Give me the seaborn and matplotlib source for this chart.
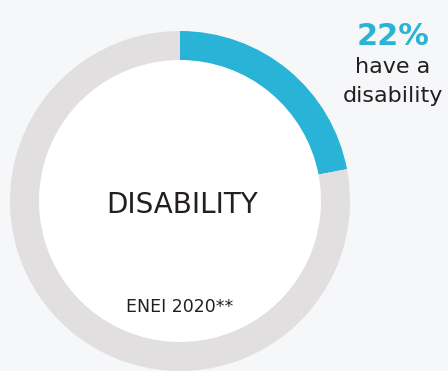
import matplotlib
matplotlib.use("Agg")
import matplotlib.pyplot as plt
import seaborn as sns

# Share of respondents reporting a disability
categories = ["Have a disability", "Other"]
values = [22, 78]
headline = "22%"
caption_lines = ["have a", "disability"]
center_label = "DISABILITY"
source_label = "ENEI 2020**"

sns.set_theme(style="white")
plt.rcParams["font.family"] = ["DejaVu Sans"]

ring_colors = ["#29b3d6", "#e1dfe0"]
bg = "#f6f7f9"
ink = "#231f20"

fig = plt.figure(figsize=(4.48, 3.71), dpi=100, facecolor=bg)
ax = fig.add_axes([0, 0, 1, 1])
ax.set_facecolor(bg)

H = 371
cx, cy, r, w = 180, H - 201, 170, 29
ax.add_patch(plt.Circle((cx, cy), r - w, color="white", zorder=0))
ax.pie(values, colors=ring_colors, startangle=90, counterclock=False,
       center=(cx, cy), radius=r, wedgeprops=dict(width=w, linewidth=0))
ax.set_xlim(0, 448)
ax.set_ylim(0, H)
ax.set_aspect("equal")
ax.axis("off")

ax.text(182, H - 213, center_label, ha="center", va="baseline",
        fontsize=20, color=ink)
ax.text(180, H - 312, source_label, ha="center", va="baseline",
        fontsize=12.5, color=ink)
ax.text(393, H - 45, headline, ha="center", va="baseline",
        fontsize=22, fontweight="bold", color=ring_colors[0])
ax.text(393, H - 73, caption_lines[0], ha="center", va="baseline",
        fontsize=16, color=ink)
ax.text(393, H - 102, caption_lines[1], ha="center", va="baseline",
        fontsize=16, color=ink)

fig.savefig("out.png", dpi=100, facecolor=bg)
